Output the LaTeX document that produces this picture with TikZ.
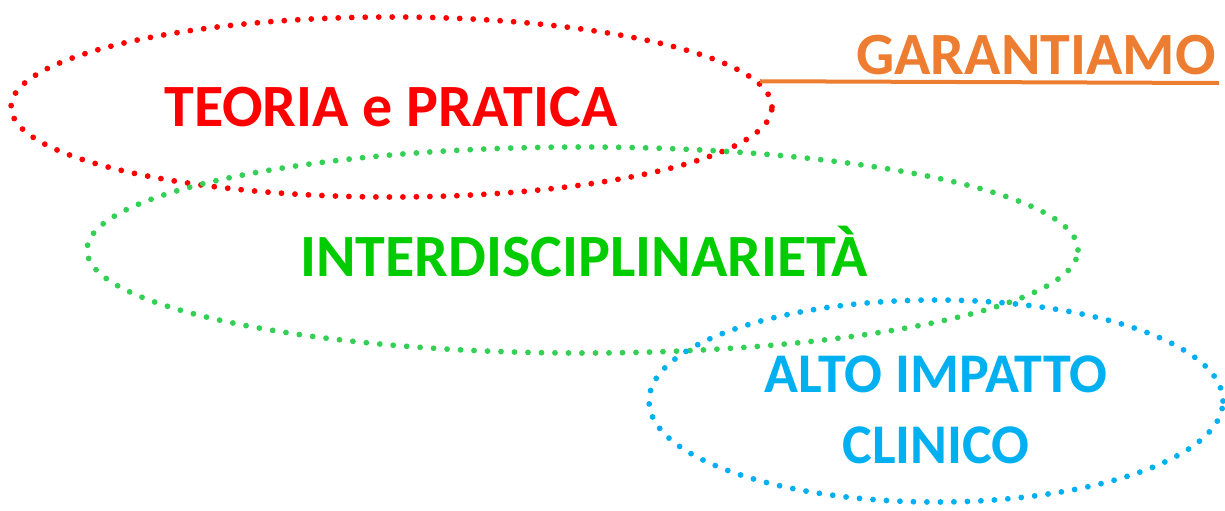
\documentclass[tikz,border=0pt]{standalone}
\usepackage{fontspec}
\setmainfont{Carlito}
\usetikzlibrary{shapes.geometric,positioning}

\definecolor{rosso}{RGB}{255,0,0}
\definecolor{verdeTesto}{RGB}{0,204,0}
\definecolor{verdePunti}{RGB}{51,208,85}
\definecolor{azzurro}{RGB}{0,176,240}
\definecolor{arancio}{RGB}{237,125,49}

\begin{document}
\begin{tikzpicture}[x=0.5pt,y=-0.5pt,
  ovale/.style={ellipse,line width=2.9pt,line cap=round,dash pattern=on 0pt off 6.75pt,inner sep=0},
  titolo/.style={font=\bfseries\fontsize{30pt}{36pt}\selectfont,inner sep=0,anchor=base},
  sotto/.style={titolo,font=\bfseries\fontsize{28pt}{34pt}\selectfont}]
\useasboundingbox (0,0) rectangle (1225,510);

%% dotted ovals
\node[ovale,draw=rosso,minimum width=380.5pt,minimum height=90pt] (ovTeoria) at (391.5,107) {};
\node[ovale,draw=verdePunti,minimum width=495.5pt,minimum height=103pt] (ovInter) at (582.5,250) {};
\node[ovale,draw=azzurro,minimum width=287pt,minimum height=101pt] (ovAlto) at (936,401) {};

%% labels
\node[titolo,text=rosso] (teoria) at (391,126) {TEORIA e PRATICA};
\node[titolo,text=verdeTesto] (inter) at (584,276) {INTERDISCIPLINARIETÀ};
\node[sotto,text=azzurro] (alto) at (936,392) {ALTO IMPATTO};
\node[sotto,text=azzurro] (clinico) at (936,463) {CLINICO};

%% heading with underline
\coordinate (garFine) at (1219,83);
\draw[arancio,line width=2pt] (ovTeoria.4) -- (garFine);
\node[titolo,text=arancio,anchor=base east] (garantiamo) at (1216,74) {GARANTIAMO};
\end{tikzpicture}
\end{document}
